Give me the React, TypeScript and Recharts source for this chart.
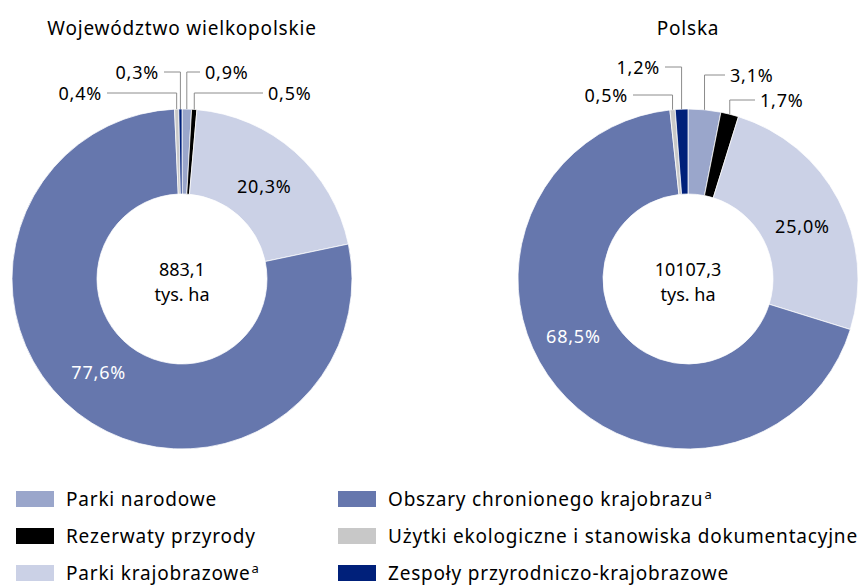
import React from "react";
import { PieChart, Pie, Cell } from "recharts";

// kategorie form ochrony przyrody (kolejność jak na wykresie, od godz. 12 zgodnie z ruchem wskazówek)
const categories = [
  "Parki narodowe",
  "Rezerwaty przyrody",
  "Parki krajobrazowe",
  "Obszary chronionego krajobrazu",
  "Użytki ekologiczne i stanowiska dokumentacyjne",
  "Zespoły przyrodniczo-krajobrazowe",
];
const footnoted = [false, false, true, true, false, false];

// udziały w %
const wielkopolskieShares = [0.9, 0.5, 20.3, 77.6, 0.4, 0.3];
const polskaShares = [3.1, 1.7, 25.0, 68.5, 0.5, 1.2];

const panelTitles = ["Województwo wielkopolskie", "Polska"];
const panelTotals = ["883,1", "10107,3"];
const totalUnit = "tys. ha";

const COLORS = ["#9aa6cb", "#000000", "#cbd1e6", "#6677ad", "#c8c8c8", "#00207a"];
const LABEL_COLORS = ["#000", "#000", "#000", "#fff", "#000", "#000"];

const FONT = "'Noto Sans', sans-serif";
const SPACING = 0.8;
const RADIAN = Math.PI / 180;

// rozmieszczenie etykiet: "in" = wewnątrz pierścienia, "out" = z linią odniesienia
type LabelPlace =
  | { kind: "in"; shift: number; r: number }
  | { kind: "out"; tx: number; ly: number; anchor: "start" | "end" };

const leftPlaces: LabelPlace[] = [
  { kind: "out", tx: 23, ly: -207, anchor: "start" },
  { kind: "out", tx: 86, ly: -186, anchor: "start" },
  { kind: "in", shift: 0, r: 124 },
  { kind: "in", shift: -4, r: 125 },
  { kind: "out", tx: -80, ly: -186, anchor: "end" },
  { kind: "out", tx: -23, ly: -207, anchor: "end" },
];

const rightPlaces: LabelPlace[] = [
  { kind: "out", tx: 42, ly: -204, anchor: "start" },
  { kind: "out", tx: 72, ly: -179, anchor: "start" },
  { kind: "in", shift: -3, r: 126 },
  { kind: "in", shift: -13, r: 128 },
  { kind: "out", tx: -60, ly: -184, anchor: "end" },
  { kind: "out", tx: -28, ly: -212, anchor: "end" },
];

const fmt = (v: number) => v.toFixed(1).replace(".", ",") + "%";

const makeLabel = (places: LabelPlace[]) => (props: any) => {
  const { cx, cy, midAngle, outerRadius, index, value } = props;
  const place = places[index];
  if (place.kind === "in") {
    const a = (midAngle + place.shift) * RADIAN;
    const x = cx + place.r * Math.cos(a);
    const y = cy - place.r * Math.sin(a);
    return (
      <text
        x={x}
        y={y}
        fill={LABEL_COLORS[index]}
        textAnchor="middle"
        dominantBaseline="central"
        fontSize={18}
        fontFamily={FONT}
        style={{ letterSpacing: SPACING }}
      >
        {fmt(value)}
      </text>
    );
  }
  const px = cx + outerRadius * Math.cos(midAngle * RADIAN);
  const py = cy - outerRadius * Math.sin(midAngle * RADIAN);
  const ly = cy + place.ly;
  const tx = cx + place.tx;
  const gap = place.anchor === "start" ? -5 : 5;
  return (
    <g>
      <polyline
        points={`${px},${py} ${px},${ly} ${tx + gap},${ly}`}
        fill="none"
        stroke="#8c8c8c"
        strokeWidth={1}
      />
      <text
        x={tx}
        y={ly}
        fill="#000"
        textAnchor={place.anchor}
        dominantBaseline="central"
        fontSize={18}
        fontFamily={FONT}
        style={{ letterSpacing: SPACING }}
      >
        {fmt(value)}
      </text>
    </g>
  );
};

const toRows = (shares: number[]) => categories.map((name, i) => ({ name, value: shares[i] }));

const CENTERS = [
  { cx: 182, cy: 279 },
  { cx: 688, cy: 279 },
];

export default function App() {
  const datasets = [toRows(wielkopolskieShares), toRows(polskaShares)];
  const places = [leftPlaces, rightPlaces];

  return (
    <div
      style={{
        position: "relative",
        width: 862,
        height: 586,
        background: "#fff",
        fontFamily: FONT,
        color: "#000",
        letterSpacing: SPACING,
        overflow: "hidden",
      }}
    >
      <style>{`body{margin:0}`}</style>

      <PieChart
        width={862}
        height={460}
        margin={{ top: 0, right: 0, bottom: 0, left: 0 }}
        style={{ position: "absolute", left: 0, top: 0 }}
      >
        {datasets.map((rows, p) => (
          <Pie
            key={p}
            data={rows}
            dataKey="value"
            nameKey="name"
            cx={CENTERS[p].cx}
            cy={CENTERS[p].cy}
            innerRadius={85}
            outerRadius={170}
            startAngle={90}
            endAngle={-270}
            stroke="#fff"
            strokeWidth={0.75}
            label={makeLabel(places[p])}
            labelLine={false}
            isAnimationActive={false}
          >
            {rows.map((_, i) => (
              <Cell key={i} fill={COLORS[i]} />
            ))}
          </Pie>
        ))}
      </PieChart>

      {panelTitles.map((t, p) => (
        <div
          key={t}
          style={{
            position: "absolute",
            left: CENTERS[p].cx - 200,
            width: 400,
            top: 14,
            textAlign: "center",
            fontSize: 19,
            lineHeight: "28px",
          }}
        >
          {t}
        </div>
      ))}

      {panelTotals.map((t, p) => (
        <div
          key={t}
          style={{
            position: "absolute",
            left: CENTERS[p].cx - 60,
            width: 120,
            top: CENTERS[p].cy - 22,
            textAlign: "center",
            fontSize: 18,
            lineHeight: "25px",
            letterSpacing: 0,
          }}
        >
          {t}
          <br />
          {totalUnit}
        </div>
      ))}

      {categories.map((name, i) => {
        const col = Math.floor(i / 3);
        const row = i % 3;
        return (
          <div
            key={name}
            style={{
              position: "absolute",
              left: col === 0 ? 16 : 338,
              top: 499 + row * 37 - 11,
              height: 22,
              lineHeight: "22px",
              display: "flex",
              alignItems: "center",
              whiteSpace: "nowrap",
              fontSize: 19,
            }}
          >
            <span style={{ display: "inline-block", width: 38, height: 16, background: COLORS[i], marginRight: 12 }} />
            <span>
              {name}
              {footnoted[i] && <sup style={{ fontSize: 13, lineHeight: 0, marginLeft: 1 }}>a</sup>}
            </span>
          </div>
        );
      })}
    </div>
  );
}
